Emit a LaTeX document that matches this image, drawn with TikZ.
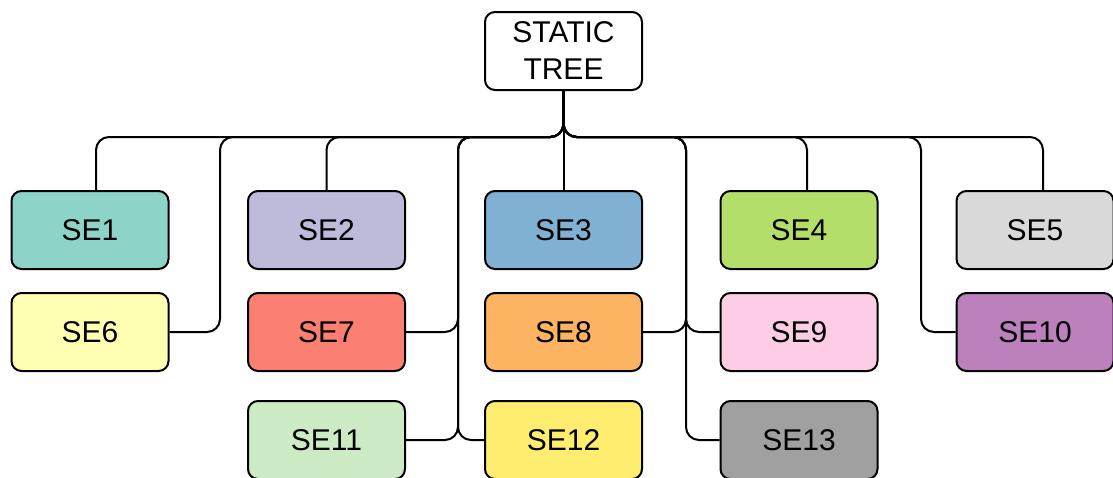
\documentclass[tikz,border=0pt]{standalone}
\usepackage{fontspec}
\setmainfont{Liberation Sans}
\definecolor{cA}{HTML}{8DD3C7}
\definecolor{cB}{HTML}{BEBADA}
\definecolor{cC}{HTML}{80B1D3}
\definecolor{cD}{HTML}{B3DE69}
\definecolor{cE}{HTML}{D9D9D9}
\definecolor{cF}{HTML}{FFFFB3}
\definecolor{cG}{HTML}{FB8072}
\definecolor{cH}{HTML}{FDB462}
\definecolor{cI}{HTML}{FCCDE5}
\definecolor{cJ}{HTML}{BC80BD}
\definecolor{cK}{HTML}{CCEBC5}
\definecolor{cL}{HTML}{FFED6F}
\definecolor{cM}{HTML}{A0A0A0}
\begin{document}
\begin{tikzpicture}[x=1pt,y=-1pt,
  box/.style={draw=black,line width=2pt,rounded corners=10pt,
    minimum width=157pt,minimum height=78pt,inner sep=0pt,
    align=center,font=\fontsize{30}{37}\selectfont},
  edge/.style={draw=black,line width=2pt,rounded corners=13pt}]
\useasboundingbox (0,0) rectangle (1113,477);
\begin{scope}
\clip (0,0) rectangle (1113,477);
% root
\node[box,fill=white] (root) at (563.5,51) {STATIC\\TREE};
% first row
\node[box,fill=cA] (se1)  at (90,230)   {SE1};
\node[box,fill=cB] (se2)  at (326.5,230) {SE2};
\node[box,fill=cC] (se3)  at (563.5,230) {SE3};
\node[box,fill=cD] (se4)  at (799,230)  {SE4};
\node[box,fill=cE] (se5)  at (1035,230) {SE5};
% second row
\node[box,fill=cF] (se6)  at (90,332)   {SE6};
\node[box,fill=cG] (se7)  at (326.5,332) {SE7};
\node[box,fill=cH] (se8)  at (563.5,332) {SE8};
\node[box,fill=cI] (se9)  at (799,332)  {SE9};
\node[box,fill=cJ] (se10) at (1035,332) {SE10};
% third row
\node[box,fill=cK] (se11) at (326.5,440) {SE11};
\node[box,fill=cL] (se12) at (563.5,440) {SE12};
\node[box,fill=cM] (se13) at (799,440)  {SE13};
\end{scope}
% bus height and vertical lanes
\coordinate (bus)   at (0,137);
\coordinate (laneA) at (220,0);
\coordinate (laneB) at (458,0);
\coordinate (laneC) at (686,0);
\coordinate (laneD) at (921,0);
% top-row links
\draw[edge] (root.south) |- ([xshift=6pt]se1.north |- bus) -- ([xshift=6pt]se1.north);
\draw[edge] (root.south) |- (se2.north |- bus) -- (se2.north);
\draw[edge] (root.south) -- (se3.north);
\draw[edge] (root.south) |- ([xshift=8pt]se4.north |- bus) -- ([xshift=8pt]se4.north);
\draw[edge] (root.south) |- ([xshift=8pt]se5.north |- bus) -- ([xshift=8pt]se5.north);
% lane links
\draw[edge] (root.south) |- (laneA |- bus) |- (se6.east);
\draw[edge] (root.south) |- (laneB |- bus) |- (se7.east);
\draw[edge] (root.south) |- (laneB |- bus) |- (se11.east);
\draw[edge] (root.south) |- (laneB |- bus) |- (se12.west);
\draw[edge] (root.south) |- (laneC |- bus) |- (se8.east);
\draw[edge] (root.south) |- (laneC |- bus) |- (se9.west);
\draw[edge] (root.south) |- (laneC |- bus) |- (se13.west);
\draw[edge] (root.south) |- (laneD |- bus) |- (se10.west);
\end{tikzpicture}
\end{document}
